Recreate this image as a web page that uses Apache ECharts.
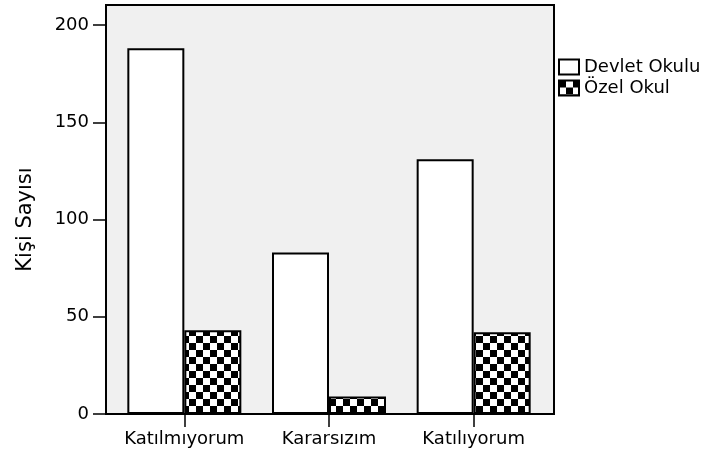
<!DOCTYPE html>
<html>
<head>
<meta charset="utf-8">
<script src="https://cdn.jsdelivr.net/npm/echarts@6/dist/echarts.min.js"></script>
<style>html,body{margin:0;padding:0;background:#fff;}#c{width:705px;height:452px;}</style>
</head>
<body>
<div id="c"></div>
<script>
const categories = ['Katılmıyorum', 'Kararsızım', 'Katılıyorum'];
const devletOkulu = [188, 83, 131];
const ozelOkul = [43, 9, 42];
const seriesNames = ['Devlet Okulu', 'Özel Okul'];
const yTitle = 'Kişi Sayısı';

// checker pattern
const pc = document.createElement('canvas');
pc.width = 14; pc.height = 14;
const g = pc.getContext('2d');
g.fillStyle = '#fff'; g.fillRect(0, 0, 14, 14);
g.fillStyle = '#000'; g.fillRect(0, 0, 7, 7); g.fillRect(7, 7, 7, 7);
const checker = { image: pc, repeat: 'repeat' };

const font = 'DejaVu Sans';
const chart = echarts.init(document.getElementById('c'), null, { renderer: 'canvas' });
chart.setOption({
  animation: false,
  backgroundColor: '#fff',
  textStyle: { fontFamily: font },
  grid: [
    { left: 106, right: 151, top: 5, bottom: 38, show: true, backgroundColor: '#f0f0f0', borderColor: '#000', borderWidth: 2, z: 0 },
    { left: 112, right: 159, top: 25, bottom: 38 }
  ],
  legend: {
    orient: 'vertical', left: 553, top: 53,
    itemWidth: 20, itemHeight: 15, itemGap: 3,
    icon: 'rect',
    textStyle: { fontFamily: font, fontSize: 18, color: '#000' },
    data: seriesNames
  },
  xAxis: [
    { gridIndex: 0, type: 'value', show: false, min: 0, max: 1 },
    {
      gridIndex: 1, type: 'category', data: categories,
      axisLine: { show: false },
      axisTick: { show: true, alignWithLabel: true, length: 13, lineStyle: { color: '#000', width: 1.5 } },
      axisLabel: { fontFamily: font, fontSize: 18, color: '#000', margin: 16, interval: 0 }
    }
  ],
  yAxis: [
    { gridIndex: 0, type: 'value', show: false, min: 0, max: 1 },
    {
      gridIndex: 1, type: 'value', min: 0, max: 200, interval: 50, offset: 6,
      name: yTitle, nameLocation: 'middle', nameGap: 70, nameRotate: 90,
      nameTextStyle: { fontFamily: font, fontSize: 21, color: '#000' },
      axisLine: { show: false },
      axisTick: { show: true, length: 13, lineStyle: { color: '#000', width: 1.5 } },
      axisLabel: { fontFamily: font, fontSize: 18, color: '#000', margin: 17 },
      splitLine: { show: false }
    }
  ],
  series: [
    {
      name: seriesNames[0], type: 'bar', xAxisIndex: 1, yAxisIndex: 1,
      data: devletOkulu, barWidth: 57, barGap: '0%',
      itemStyle: { color: '#fff', borderColor: '#000', borderWidth: 2 }
    },
    {
      name: seriesNames[1], type: 'bar', xAxisIndex: 1, yAxisIndex: 1,
      data: ozelOkul, barWidth: 57, barGap: '0%',
      itemStyle: { color: checker, borderColor: '#000', borderWidth: 2 }
    }
  ]
});
</script>
</body>
</html>
